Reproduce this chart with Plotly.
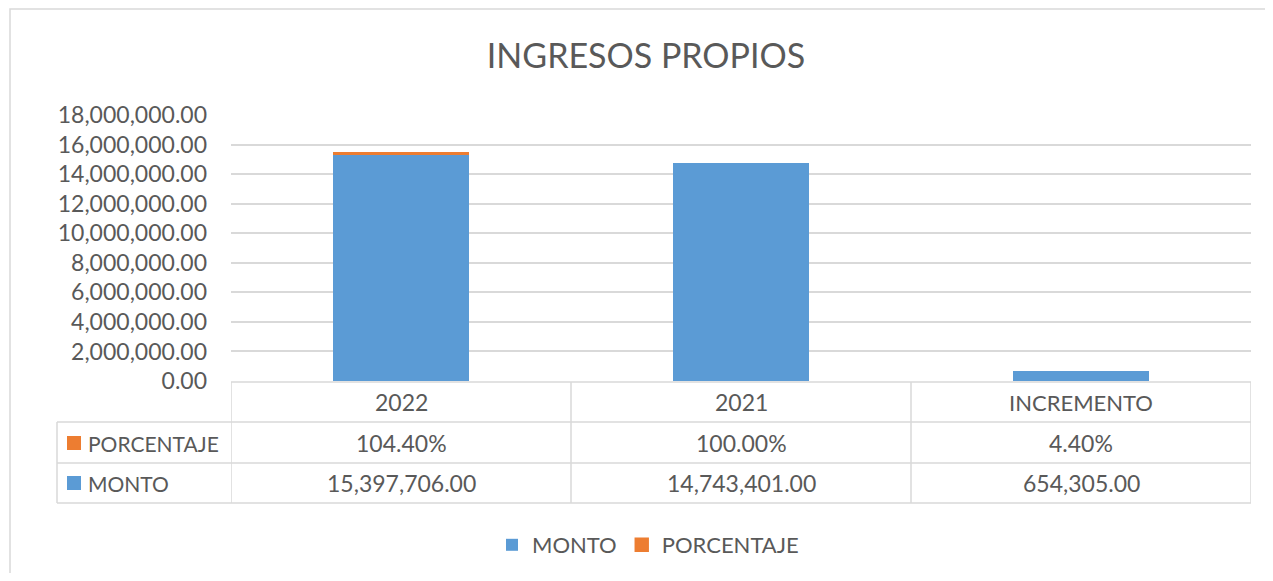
import plotly.graph_objects as go

# ---- data ----
categories = ["2022", "2021", "INCREMENTO"]
monto = [15397706.00, 14743401.00, 654305.00]
porcentaje = [1.0440, 1.0000, 0.0440]
series_names = ["MONTO", "PORCENTAJE"]
title_text = "INGRESOS PROPIOS"

# ---- styles ----
BLUE = "#5B9BD5"
ORANGE = "#ED7D31"
TXT = "#595959"
GRID = "#D9D9D9"
FONT = "Lato"
NUM_SIZE = 23
TXT_SIZE = 22
HDR_SIZE = 21
OFF = 8  # page body margin
W, H = 1273 - 2 * OFF, 581 - 2 * OFF
# plot area in screen px
L, R, T, B = 231, 1251, 115, 381


def px_x(px):
    return (px - L) / (R - L)


def px_y(py):
    return (B - py) / (B - T)


def size_for(s):
    return NUM_SIZE if any(ch.isdigit() for ch in s) else TXT_SIZE


fig = go.Figure()
fig.add_trace(go.Bar(
    x=categories, y=monto, name=series_names[0],
    marker=dict(color=BLUE, line=dict(width=0)), width=0.4,
    hoverinfo="skip",
))
fig.add_trace(go.Bar(
    x=categories, y=porcentaje, name=series_names[1],
    marker=dict(color=ORANGE, line=dict(color=ORANGE, width=[2.4, 0, 0])), width=0.4,
    hoverinfo="skip",
))

shapes = []
annotations = []

# outer chart border
shapes.append(dict(type="rect", xref="paper", yref="paper",
                   x0=px_x(10), x1=px_x(1300), y0=px_y(620), y1=px_y(9),
                   line=dict(color=GRID, width=1.5), layer="below"))

# data table geometry
row_lines = [382, 422, 463, 503]
row_centers = [402, 443, 483]
left_px = 57

shapes.append(dict(type="line", xref="paper", yref="paper",
                   x0=0, x1=1, y0=px_y(row_lines[0]), y1=px_y(row_lines[0]),
                   line=dict(color=GRID, width=1.5)))
for yl in row_lines[1:]:
    shapes.append(dict(type="line", xref="paper", yref="paper",
                       x0=px_x(left_px), x1=1, y0=px_y(yl), y1=px_y(yl),
                       line=dict(color=GRID, width=1.5)))
for i in range(len(categories) + 1):
    shapes.append(dict(type="line", xref="x", yref="paper",
                       x0=i - 0.5, x1=i - 0.5, y0=px_y(row_lines[0]), y1=px_y(row_lines[-1]),
                       line=dict(color=GRID, width=1.5)))
shapes.append(dict(type="line", xref="paper", yref="paper",
                   x0=px_x(left_px), x1=px_x(left_px), y0=px_y(row_lines[1]), y1=px_y(row_lines[-1]),
                   line=dict(color=GRID, width=1.5)))

for i, c in enumerate(categories):
    annotations.append(dict(x=i, y=px_y(row_centers[0]), xref="x", yref="paper",
                            text=c, showarrow=False, xanchor="center", yanchor="middle",
                            font=dict(family=FONT, size=size_for(c), color=TXT)))

row_series = [(series_names[1], ORANGE, [f"{v*100:.2f}%" for v in porcentaje]),
              (series_names[0], BLUE, [f"{v:,.2f}" for v in monto])]
for (name, col, vals), yc in zip(row_series, row_centers[1:]):
    shapes.append(dict(type="rect", xref="paper", yref="paper",
                       x0=px_x(67), x1=px_x(81), y0=px_y(yc + 7), y1=px_y(yc - 7),
                       fillcolor=col, line=dict(width=0)))
    annotations.append(dict(x=px_x(86), y=px_y(yc), xref="paper", yref="paper",
                            text=name, showarrow=False, xanchor="left", yanchor="middle",
                            font=dict(family=FONT, size=HDR_SIZE, color=TXT)))
    for i, v in enumerate(vals):
        annotations.append(dict(x=i, y=px_y(yc), xref="x", yref="paper",
                                text=v, showarrow=False, xanchor="center", yanchor="middle",
                                font=dict(family=FONT, size=NUM_SIZE, color=TXT)))

fig.update_layout(
    width=W, height=H,
    margin=dict(l=L - OFF, r=(OFF + W) - R, t=T - OFF, b=(OFF + H) - B, autoexpand=False),
    paper_bgcolor="white", plot_bgcolor="white",
    barmode="stack",
    title=dict(text=title_text, x=(646 - OFF) / W, xanchor="center", y=1 - (56 - OFF) / H,
               yanchor="middle", font=dict(family=FONT, size=34, color=TXT)),
    font=dict(family=FONT, color=TXT),
    xaxis=dict(showticklabels=False, showgrid=False, zeroline=False, showline=False,
               range=[-0.5, 2.5], fixedrange=True),
    yaxis=dict(range=[0, 18000000], dtick=2000000, tickformat=",.2f",
               showgrid=True, gridcolor=GRID, gridwidth=1.5, zeroline=False, showline=False,
               tickfont=dict(family=FONT, size=NUM_SIZE, color=TXT), ticklabelstandoff=23,
               fixedrange=True),
    showlegend=True,
    legend=dict(orientation="h", x=px_x(648), xanchor="center", y=px_y(545), yanchor="middle",
                font=dict(family=FONT, size=TXT_SIZE, color=TXT), traceorder="normal"),
    shapes=shapes, annotations=annotations,
)

fig.write_html("out.html")
